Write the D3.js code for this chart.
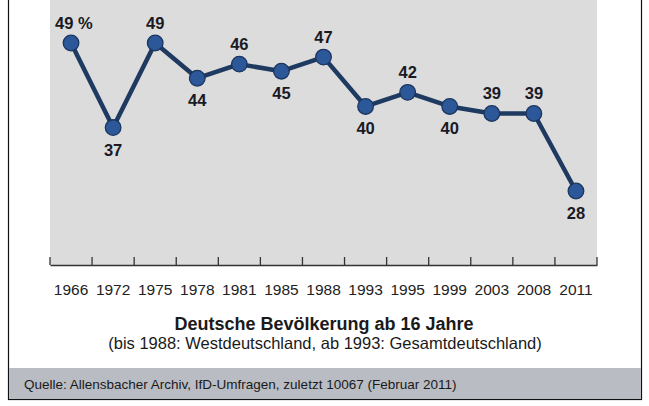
<!DOCTYPE html>
<html><head><meta charset="utf-8">
<script src="https://cdn.jsdelivr.net/npm/d3@7"></script>
<style>body{margin:0;background:#fff}svg{display:block}</style>
</head><body>
<svg id="c" width="649" height="406"></svg>
<script>
const years = ["1966","1972","1975","1978","1981","1985","1988","1993","1995","1999","2003","2008","2011"];
const values = [49,37,49,44,46,45,47,40,42,40,39,39,28];
const labelPos = ["above","below","above","below","above","below","above","below","above","below","above","above","below"];
const title = "Deutsche Bevölkerung ab 16 Jahre";
const subtitle = "(bis 1988: Westdeutschland, ab 1993: Gesamtdeutschland)";
const source = "Quelle: Allensbacher Archiv, IfD-Umfragen, zuletzt 10067 (Februar 2011)";

const svg = d3.select("#c");
const font = "'Liberation Sans', Arial, sans-serif";

// outer frame
svg.append("rect").attr("x",8.5).attr("y",-2).attr("width",633).attr("height",401.5)
  .attr("fill","#fff").attr("stroke","#111").attr("stroke-width",1.2);

const plotL = 50, plotR = 597, plotB = 265;
svg.append("rect").attr("x",plotL).attr("y",-2).attr("width",plotR-plotL).attr("height",plotB+2)
  .attr("fill","#dcdcdc");

const x = d3.scaleBand().domain(years).range([plotL, plotR]);
const y = d3.scaleLinear().domain([28,49]).range([191,43]);

// axis
const ax = svg.append("g").attr("transform",`translate(0,${plotB})`)
  .call(d3.axisBottom(x).tickSize(0).tickPadding(19));
ax.select(".domain").attr("stroke","#333").attr("stroke-width",1.3);
ax.selectAll("text").attr("font-family",font).attr("font-size",15.5).attr("fill","#222");
// boundary ticks (upward)
const bounds = years.map(d=>x(d)).concat([x(years[years.length-1])+x.bandwidth()]);
svg.append("g").selectAll("line").data(bounds).join("line")
  .attr("x1",d=>d).attr("x2",d=>d).attr("y1",plotB).attr("y2",plotB-8)
  .attr("stroke","#333").attr("stroke-width",1.3);

const cx = d => x(d) + x.bandwidth()/2;
const data = years.map((yr,i)=>({yr, v:values[i], pos:labelPos[i]}));

svg.append("path").datum(data)
  .attr("d", d3.line().x(d=>cx(d.yr)).y(d=>y(d.v)))
  .attr("fill","none").attr("stroke","#1e3a60").attr("stroke-width",4.5).attr("stroke-linejoin","round");

svg.append("g").selectAll("circle").data(data).join("circle")
  .attr("cx",d=>cx(d.yr)).attr("cy",d=>y(d.v)).attr("r",7.8)
  .attr("fill","#2c589a").attr("stroke","#1b355e").attr("stroke-width",1.3);

svg.append("g").selectAll("text").data(data).join("text")
  .attr("x",(d,i)=> i===0 ? cx(d.yr)-16 : cx(d.yr))
  .attr("y",d=> d.pos==="above" ? y(d.v)-14 : y(d.v)+28)
  .attr("text-anchor",(d,i)=> i===0 ? "start" : "middle")
  .attr("font-family",font).attr("font-weight","bold").attr("font-size",16.5).attr("fill","#1a1a24")
  .text((d,i)=> i===0 ? d.v + " %" : d.v);

svg.append("text").attr("x",324).attr("y",330).attr("text-anchor","middle")
  .attr("font-family",font).attr("font-weight","bold").attr("font-size",18).attr("fill","#1a1a1a")
  .text(title);
svg.append("text").attr("x",325).attr("y",349).attr("text-anchor","middle")
  .attr("font-family",font).attr("font-size",16.5).attr("fill","#1a1a1a")
  .text(subtitle);

svg.append("rect").attr("x",9).attr("y",368).attr("width",632).attr("height",31).attr("fill","#b9bcc3");
svg.append("text").attr("x",24).attr("y",389).attr("font-family",font).attr("font-size",13.5).attr("fill","#1a1a1a")
  .text(source);
</script>
</body></html>
